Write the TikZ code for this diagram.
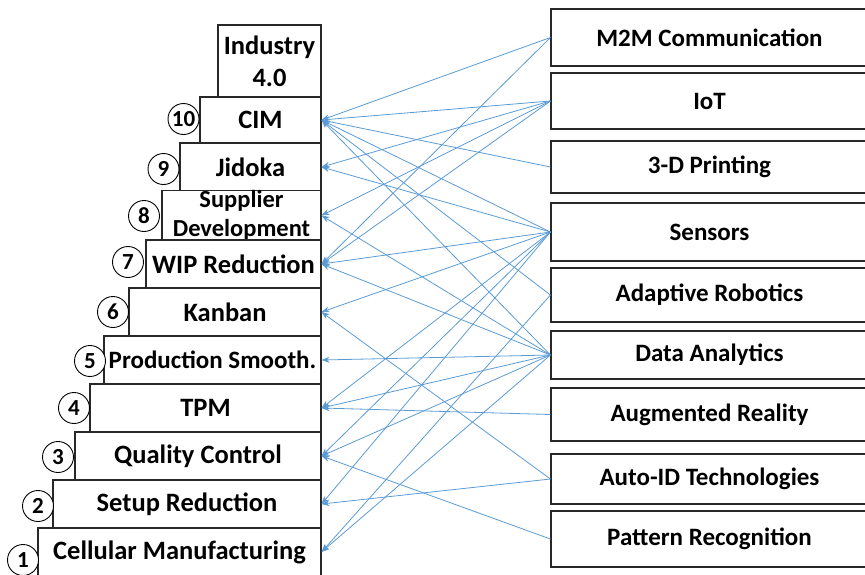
\documentclass[tikz,border=0pt]{standalone}
\usepackage{fontspec}
\setmainfont{Carlito}
\usetikzlibrary{arrows.meta}
\definecolor{conncol}{RGB}{91,155,213}
\definecolor{boxline}{RGB}{40,40,40}
\begin{document}
\begin{tikzpicture}[x=1pt,y=-1pt,
  lbox/.style={draw=boxline, line width=1.1pt, fill=white, inner sep=0pt, align=center,
    font=\bfseries\fontsize{26.5}{32}\selectfont},
  rbox/.style={lbox, minimum width=317pt, font=\bfseries\fontsize{25}{28}\selectfont},
  numc/.style={circle, draw=black, line width=0.9pt, fill=white, minimum size=31pt, inner sep=0pt,
    font=\bfseries\fontsize{23}{23}\selectfont},
  conn/.style={draw=conncol, line width=0.8pt, -{Stealth[length=8pt,width=6pt]}}]
\useasboundingbox (0,0) rectangle (865,574);
\clip (0,0) rectangle (865,574);
% left stair boxes
\node[lbox, minimum width=103pt, minimum height=72pt] (ind) at (269.5,61) {Industry\\4.0};
\node[lbox, minimum width=121pt, minimum height=46pt] (cim) at (260.5,120) {CIM};
\node[lbox, minimum width=141pt, minimum height=48pt] (jid) at (250.5,167) {Jidoka};
\node[lbox, minimum width=159pt, minimum height=49pt, font=\bfseries\fontsize{24.5}{29}\selectfont] (sup) at (241.5,215.5) {Supplier\\Development};
\node[lbox, minimum width=175pt, minimum height=48pt] (wip) at (233.5,264) {WIP Reduction};
\node[lbox, minimum width=192pt, minimum height=48pt] (kan) at (225,312) {Kanban};
\node[lbox, minimum width=217pt, minimum height=48pt, font=\bfseries\fontsize{25}{28}\selectfont] (prod) at (212.5,360) {Production Smooth.};
\node[lbox, minimum width=231pt, minimum height=48pt] (tpm) at (205.5,408) {TPM};
\node[lbox, minimum width=246pt, minimum height=48pt] (qc) at (198,456) {Quality Control};
\node[lbox, minimum width=268pt, minimum height=48pt] (setup) at (187,504) {Setup Reduction};
\node[lbox, minimum width=283pt, minimum height=48pt] (cell) at (179.5,552) {Cellular Manufacturing};
% number circles
\node[numc] (n10) at (183.5,119) {10};
\node[numc] (n9) at (163.5,169) {9};
\node[numc] (n8) at (144,216) {8};
\node[numc] (n7) at (128,262) {7};
\node[numc] (n6) at (113,312) {6};
\node[numc] (n5) at (90,361) {5};
\node[numc] (n4) at (74,408) {4};
\node[numc] (n3) at (58,457) {3};
\node[numc] (n2) at (38,506) {2};
\node[numc] (n1) at (23,560) {1};
% right technology boxes
\node[rbox, minimum height=57pt] (m2m) at (709.5,37.5) {M2M Communication};
\node[rbox, minimum height=56pt] (iot) at (709.5,101) {IoT};
\node[rbox, minimum height=52pt] (print) at (709.5,167) {3-D Printing};
\node[rbox, minimum height=58pt] (sens) at (709.5,232) {Sensors};
\node[rbox, minimum height=54pt] (adapt) at (709.5,295) {Adaptive Robotics};
\node[rbox, minimum height=48pt] (data) at (709.5,355) {Data Analytics};
\node[rbox, minimum height=53pt] (ar) at (709.5,414.5) {Augmented Reality};
\node[rbox, minimum height=50pt] (autoid) at (709.5,479) {Auto-ID Technologies};
\node[rbox, minimum height=56pt] (pattern) at (709.5,539) {Pattern Recognition};
% connectors
\draw[conn] (m2m.west) -- (cim.east);
\draw[conn] (m2m.west) -- (wip.east);
\draw[conn] (iot.west) -- (cim.east);
\draw[conn] (iot.west) -- (jid.east);
\draw[conn] (iot.west) -- (sup.east);
\draw[conn] (iot.west) -- (wip.east);
\draw[conn] (print.west) -- (cim.east);
\draw[conn] (sens.west) -- (cim.east);
\draw[conn] (sens.west) -- (jid.east);
\draw[conn] (sens.west) -- (wip.east);
\draw[conn] (sens.west) -- (kan.east);
\draw[conn] (sens.west) -- (tpm.east);
\draw[conn] (sens.west) -- (qc.east);
\draw[conn] (sens.west) -- (setup.east);
\draw[conn] (adapt.west) -- (cim.east);
\draw[conn] (adapt.west) -- (cell.east);
\draw[conn] (data.west) -- (cim.east);
\draw[conn] (data.west) -- (sup.east);
\draw[conn] (data.west) -- (wip.east);
\draw[conn] (data.west) -- (prod.east);
\draw[conn] (data.west) -- (tpm.east);
\draw[conn] (data.west) -- (qc.east);
\draw[conn] (data.west) -- (cell.east);
\draw[conn] (ar.west) -- (tpm.east);
\draw[conn] (autoid.west) -- (kan.east);
\draw[conn] (autoid.west) -- (setup.east);
\draw[conn] (pattern.west) -- (qc.east);
\end{tikzpicture}
\end{document}
